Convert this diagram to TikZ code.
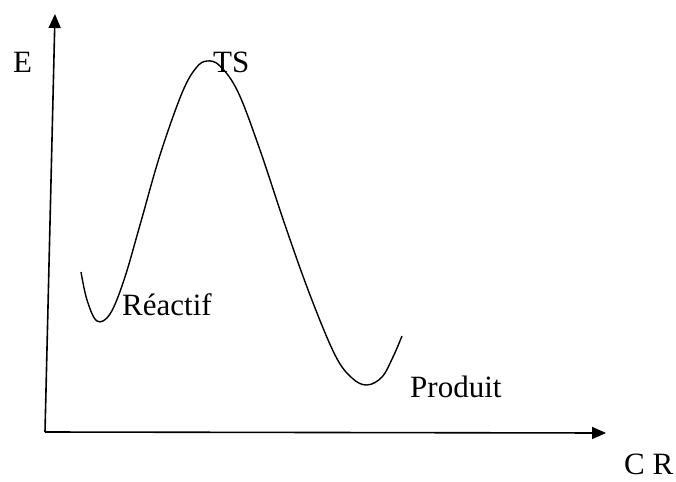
\documentclass[tikz,border=0pt]{standalone}
\usepackage{fontspec}
\setmainfont{Liberation Serif}
\usetikzlibrary{arrows.meta}
\begin{document}
\begin{tikzpicture}[x=1pt,y=-1pt,
  axis/.style={line width=1.6pt,-{Triangle[length=14pt,width=12pt]}},
  curve/.style={line width=1.4pt},
  lbl/.style={anchor=base west,inner sep=0pt,font=\fontsize{31}{35}\selectfont}]
\useasboundingbox (0,0) rectangle (676,481);
\coordinate (O) at (45,432);
\coordinate (Ytop) at (55,14);
\coordinate (Xend) at (606,433);
\draw[axis] (O) -- (Ytop);
\draw[axis] (O) -- (Xend);
\draw[curve] plot[smooth,tension=0.6] coordinates {
  (81,272) (87,300) (97,321) (110,314) (124,280) (140,225) (160,155) (182,93) (196,68) (207,61) (220,66) (238,92)
  (260,150) (285,225) (310,295) (335,355) (352,378) (367,385) (382,377) (393,357) (402,336)};
\node[lbl] (E) at (13,73) {E};
\node[lbl] (TS) at (213,73) {TS};
\node[lbl] (R) at (122,315) {Réactif};
\node[lbl] (P) at (410,397) {Produit};
\node[lbl] (CR) at (624,474) {C R};
\end{tikzpicture}
\end{document}
